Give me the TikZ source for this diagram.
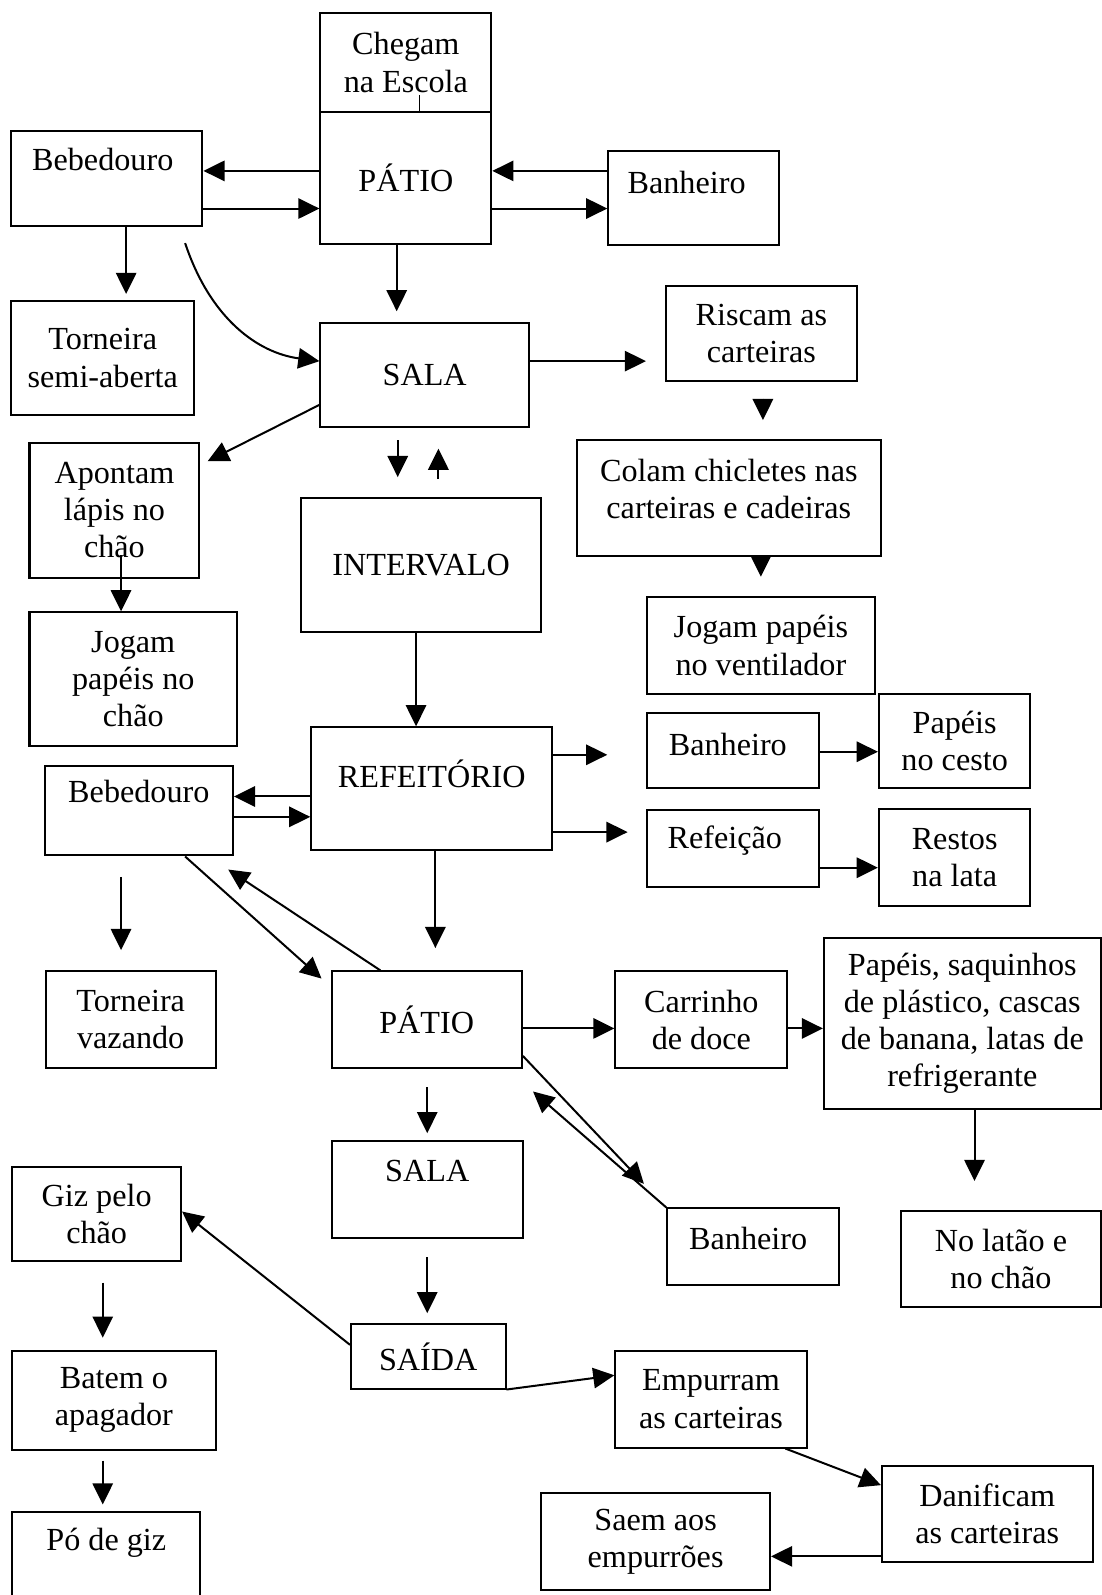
\documentclass[tikz,border=0pt]{standalone}
\usepackage{fontspec}
\setmainfont{Liberation Serif}
\usetikzlibrary{arrows.meta,calc}

\tikzset{
  box/.style={draw, line width=1.4pt, inner sep=0pt, align=center, font=\fontsize{22.5}{26}\selectfont},
  sz/.style 2 args={minimum width=#1*0.025cm, minimum height=#2*0.025cm},
  txt/.style={inner sep=0pt, align=center, font=\fontsize{22.5}{26}\selectfont},
  arr/.style={line width=1.4pt, -{Triangle[length=0.52cm,width=0.5cm]}},
}

\begin{document}
\begin{tikzpicture}[x=0.025cm, y=-0.025cm]
  \useasboundingbox (0,0) rectangle (1083,1568);

  % chegada e patio
  \node[box, sz={168}{97}] (cheg) at (399,61.5) {Chegam\\na Escola};
  \node[box, sz={168}{130}] (pat1) at (399,175) {PÁTIO};
  \node[box, sz={188}{93}] (beb1) at (105,175.5) {};
  \node[txt] (beb1t) at ($(beb1.north)+(-4,29)$) {Bebedouro};
  \node[box, sz={168}{93}] (ban1) at (682,194.5) {};
  \node[txt] (ban1t) at ($(ban1.north)+(-7,32)$) {Banheiro};
  \node[box, sz={180}{112}] (tor1) at (101,352) {Torneira\\semi-aberta};

  % sala
  \node[box, sz={205}{102}] (sala1) at (417.5,369) {SALA};
  \node[box, sz={187}{94}] (risc) at (748.5,328) {Riscam as\\carteiras};
  \node[box, sz={299}{114}] (colam) at (716.5,490) {};
  \node[txt] (colamt) at ($(colam)+(0,-9)$) {Colam chicletes nas\\carteiras e cadeiras};
  \node[box, sz={224}{95}] (jogv) at (748,634.5) {Jogam papéis\\no ventilador};
  \node[box, sz={167}{133}] (apon) at (112.5,501.5) {Apontam\\lápis no\\chão};
  \node[box, sz={204}{131}] (jogc) at (131,667.5) {Jogam\\papéis no\\chão};
  \node[box, sz={236}{131}] (intv) at (414,555.5) {INTERVALO};

  % refeitorio
  \node[box, sz={237}{121}] (ref) at (424.5,775.5) {};
  \node[txt] (reft) at ($(ref.north)+(0,47)$) {REFEITÓRIO};
  \node[box, sz={185}{88}] (beb2) at (136.5,797) {};
  \node[txt] (beb2t) at ($(beb2.north)+(0,26)$) {Bebedouro};
  \node[box, sz={169}{74}] (ban2) at (720.5,738) {};
  \node[txt] (ban2t) at ($(ban2)+(-5,-6)$) {Banheiro};
  \node[box, sz={149}{93}] (pcest) at (938.5,728.5) {Papéis\\no cesto};
  \node[box, sz={169}{76}] (refc) at (720.5,834) {};
  \node[txt] (refct) at ($(refc)+(-8,-8)$) {Refeição};
  \node[box, sz={149}{96}] (rest) at (938.5,843) {Restos\\na lata};
  \node[box, sz={167}{95}] (tor2) at (128.5,1002.5) {Torneira\\vazando};

  % patio de novo
  \node[box, sz={187}{95}] (pat2) at (419.5,1002.5) {PÁTIO};
  \node[box, sz={169}{95}] (carr) at (689.5,1002.5) {Carrinho\\de doce};
  \node[box, sz={272}{168}] (saq) at (946,1006) {Papéis, saquinhos\\de plástico, cascas\\de banana, latas de\\refrigerante};
  \node[box, sz={196}{95}] (lat) at (984,1237.5) {No latão e\\no chão};
  \node[box, sz={169}{75}] (ban3) at (740.5,1225.5) {};
  \node[txt] (ban3t) at ($(ban3)+(-5,-8)$) {Banheiro};
  \node[box, sz={188}{95}] (sala2) at (420,1169.5) {};
  \node[txt] (sala2t) at ($(sala2.north)+(0,30)$) {SALA};

  % saida
  \node[box, sz={152}{63}] (said) at (421,1333.5) {SAÍDA};
  \node[box, sz={166}{93}] (giz) at (95,1193.5) {Giz pelo\\chão};
  \node[box, sz={200}{97}] (bat) at (112,1376.5) {Batem o\\apagador};
  \node[box, sz={185}{94}] (po) at (104.5,1533) {};
  \node[txt] (pot) at ($(po.north)+(0,32)$) {Pó de giz};
  \node[box, sz={188}{95}] (emp) at (699,1375.5) {Empurram\\as carteiras};
  \node[box, sz={207}{95}] (dan) at (970.5,1488.5) {Danificam\\as carteiras};
  \node[box, sz={225}{95}] (saem) at (644.5,1515.5) {Saem aos\\empurrões};

  \draw[line width=0.8pt] (cheg.south -| 412,0) -- ++(0,-18);

  \draw[arr] (pat1.west |- 0,168) -- (beb1.east |- 0,168);
  \draw[arr] (beb1.east |- 0,205) -- (pat1.west |- 0,205);
  \draw[arr] (ban1.west |- 0,168) -- (pat1.east |- 0,168);
  \draw[arr] (pat1.east |- 0,205) -- (ban1.west |- 0,205);
  \draw[arr, shorten >=0.15cm] (beb1.south -| 124,0) -- (tor1.north -| 124,0);
  \draw[arr] ($(beb1.south -| 182,0)+(0,16)$) .. controls +(25,75) and +(-60,-8) .. (sala1.west |- 0,355);
  \draw[arr, shorten >=0.275cm] (pat1.south -| 390,0) -- (sala1.north -| 390,0);
  \draw[arr, shorten >=0.475cm] (sala1.east |- 0,355) -- (risc.west |- 0,355);
  \draw[arr, shorten <=0.4cm, shorten >=0.475cm] (risc.south -| 750,0) -- (colam.north -| 750,0);
  \draw[arr, shorten >=0.475cm] (colam.south -| 748,0) -- (jogv.north -| 748,0);
  \draw[arr, shorten >=0.2cm] (sala1.west |- 0,398) -- (apon.east |- 0,457);
  \draw[arr] ($(apon.south -| 119,0)+(0,-23)$) -- (jogc.north -| 119,0);
  \draw[arr, shorten <=0.3cm, shorten >=0.5cm] (sala1.south -| 391,0) -- (intv.north -| 391,0);
  \draw[arr, shorten <=0.45cm, shorten >=0.5cm] (intv.north -| 431,0) -- (sala1.south -| 431,0);
  \draw[arr] (intv.south -| 409,0) -- (ref.north -| 409,0);

  \draw[arr] (ref.west |- 0,783) -- (beb2.east |- 0,783);
  \draw[arr] (beb2.east |- 0,803) -- (ref.west |- 0,803);
  \draw[arr, shorten >=0.95cm] (ref.east |- 0,742) -- (ban2.west |- 0,742);
  \draw[arr, shorten >=0.45cm] (ref.east |- 0,818) -- (refc.west |- 0,818);
  \draw[arr] (ban2.east |- 0,739) -- (pcest.west |- 0,739);
  \draw[arr] (refc.east |- 0,853) -- (rest.west |- 0,853);
  \draw[arr, shorten <=0.5cm, shorten >=0.5cm] (beb2.south -| 119,0) -- (tor2.north -| 119,0);
  \draw[arr, shorten >=0.3cm] (beb2.south -| 182,0) -- (pat2.west |- 0,970);
  \draw[arr, shorten >=0.58cm] (pat2.north -| 374,0) -- (beb2.south -| 205,0);
  \draw[arr, shorten >=0.55cm] (ref.south -| 428,0) -- (pat2.north -| 428,0);

  \draw[arr] (pat2.east |- 0,1011) -- (carr.west |- 0,1011);
  \draw[arr] (carr.east |- 0,1011) -- (saq.west |- 0,1011);
  \draw[arr, shorten >=0.7cm] (saq.south -| 958,0) -- (lat.north -| 958,0);
  \draw[arr, shorten >=0.8cm] (pat2.east |- 0,1038) -- (ban3.north west);
  \draw[arr] (ban3.north west) -- ($(pat2.south east)+(10,22)$);
  \draw[arr, shorten <=0.45cm, shorten >=0.175cm] (pat2.south -| 420,0) -- (sala2.north -| 420,0);
  \draw[arr, shorten <=0.45cm, shorten >=0.25cm] (sala2.south -| 420,0) -- (said.north -| 420,0);

  \draw[arr] (said.west |- 0,1322) -- (giz.east |- 0,1191);
  \draw[arr, shorten <=0.5cm, shorten >=0.3cm] (giz.south -| 101,0) -- (bat.north -| 101,0);
  \draw[arr, shorten <=0.25cm, shorten >=0.15cm] (bat.south -| 101,0) -- (po.north -| 101,0);
  \draw[arr] (said.south east) -- (emp.west |- 0,1352);
  \draw[arr] (emp.south -| 772,0) -- (dan.west |- 0,1460);
  \draw[arr] (dan.west |- 0,1530) -- (saem.east |- 0,1530);
\end{tikzpicture}
\end{document}
